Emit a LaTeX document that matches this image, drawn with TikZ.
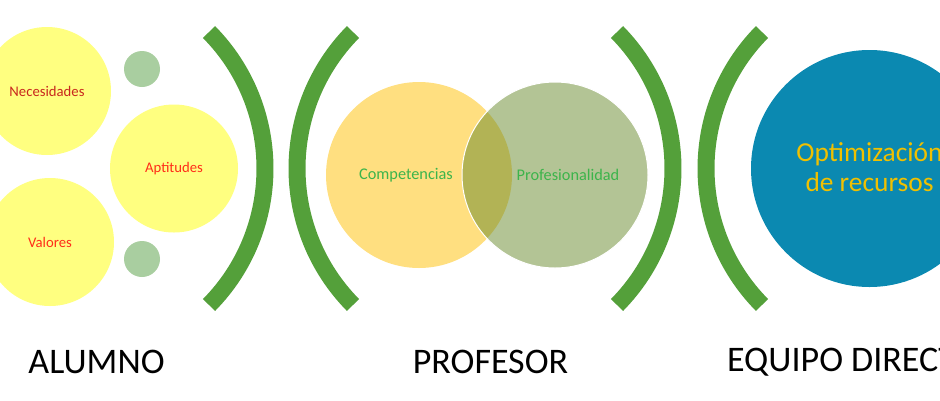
\documentclass[tikz,border=0pt]{standalone}
\usepackage{fontspec}
\setmainfont{Carlito}
\definecolor{arcgreen}{RGB}{84,160,58}
\definecolor{ycirc}{RGB}{255,255,128}
\definecolor{smallg}{RGB}{169,206,160}
\definecolor{redA}{RGB}{200,40,30}
\definecolor{redB}{RGB}{255,45,25}
\definecolor{orangec}{RGB}{255,223,128}
\definecolor{sage}{RGB}{103,137,43}
\definecolor{txtgreen}{RGB}{60,180,75}
\definecolor{bluec}{RGB}{11,137,177}
\definecolor{goldt}{RGB}{240,192,0}
\tikzset{
  ybub/.style={circle, fill=ycirc, minimum size=128pt, inner sep=0pt},
  sbub/.style={circle, fill=smallg, minimum size=36pt, inner sep=0pt},
  bracket/.style={draw=arcgreen, line width=17pt},
  smalltxt/.style={font=\fontsize{14.7}{17}\selectfont},
  midtxt/.style={font=\fontsize{16.3}{19}\selectfont, text=txtgreen},
  bigtxt/.style={font=\fontsize{36}{43}\selectfont, text=black, inner sep=0pt},
}
\begin{document}
\begin{tikzpicture}[x=1pt,y=-1pt]
\useasboundingbox (0,0) rectangle (940,400);
\clip (0,0) rectangle (940,400);
% left group
\node[ybub, text=redA, smalltxt] (nec) at (47,91) {Necesidades};
\node[ybub, text=redB, smalltxt] (apt) at (174,168.5) {Aptitudes};
\node[ybub, text=redB, smalltxt] (val) at (50,242) {Valores};
\node[sbub] (s1) at (142,69) {};
\node[sbub] (s2) at (142,259) {};
% brackets
\draw[bracket] (70.6,168.5) ++(-44.6:194.4) arc[start angle=-44.6, end angle=44.6, radius=194.4];
\draw[bracket] (491.4,168.5) ++(224.6:194.4) arc[start angle=224.6, end angle=135.4, radius=194.4];
\draw[bracket] (478.6,168.5) ++(-44.6:194.4) arc[start angle=-44.6, end angle=44.6, radius=194.4];
\draw[bracket] (900.4,168.5) ++(224.6:194.4) arc[start angle=224.6, end angle=135.4, radius=194.4];
% Venn
\node[circle, fill=orangec, minimum size=186pt, inner sep=0pt] (comp) at (419,175) {};
\node[circle, fill=sage, fill opacity=0.5, draw=white, line width=1pt, minimum size=186pt, inner sep=0pt] (prof) at (555,175) {};
\node[midtxt] (tcomp) at (406,175) {Competencias};
\node[midtxt] (tprof) at (568,175) {Profesionalidad};
% right
\node[circle, fill=bluec, minimum size=237pt, inner sep=0pt] (opt) at (869.5,168.5) {};
\node[align=center, text=goldt, font=\fontsize{27.4}{30}\selectfont] (topt) at (869.5,167) {Optimización\\de recursos};
% labels
\node[bigtxt] (alu) at (96.5,362) {ALUMNO};
\node[bigtxt] (pro) at (490.5,362) {PROFESOR};
\node[bigtxt, anchor=west] (equ) at (727,362) {EQUIPO DIRECTIVO};
\end{tikzpicture}
\end{document}
